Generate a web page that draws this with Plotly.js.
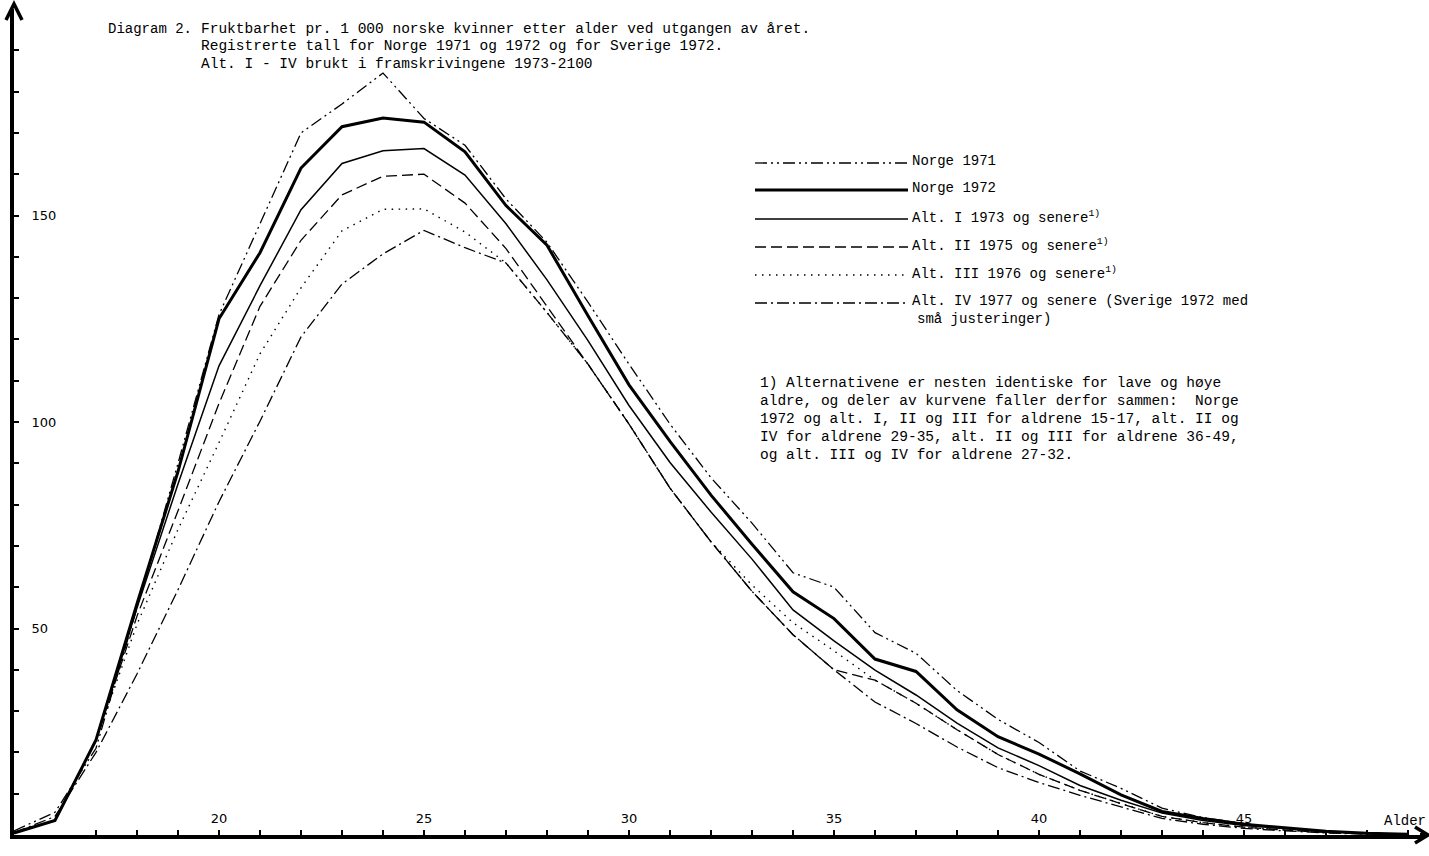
<!DOCTYPE html>
<html>
<head>
<meta charset="utf-8">
<script src="https://cdn.plot.ly/plotly-3.0.1.min.js"></script>
<style>
html,body{margin:0;padding:0;background:#fff;}
#chart{width:1429px;height:856px;}
</style>
</head>
<body>
<div id="chart"></div>
<script>
// ---------- DATA ----------
const ages = [15,16,17,18,19,20,21,22,23,24,25,26,27,28,29,30,31,32,33,34,35,36,37,38,39,40,41,42,43,44,45,46,47,48,49];

const norge1971 = [1.0,5.5,21,55,90,126,148,170,177,184.5,173.5,167,154,143.5,129,114,99.5,86.5,75.5,63.5,60,49,44,35,28,22.4,15.5,11.3,6.5,4.2,2.8,1.6,0.8,0.4,0.2];
const norge1972 = [0.5,3.5,23,56,88,125,141,161.5,171.5,173.6,172.6,165.4,152.4,142.8,125.7,109,95.3,82.3,70.4,58.9,52.4,42.6,39.6,30.3,23.8,19.6,14.8,9.7,5.7,4.0,2.6,1.7,0.9,0.4,0.2];
const altI      = [0.5,3.5,23,55,85,113.6,133,151.4,162.6,165.7,166.2,159.8,148,134.4,119.7,104,90.2,78.2,66.8,54.5,47,39.9,33.9,27.1,21.1,16.8,12,8.4,5.3,3.5,2.3,1.5,0.8,0.4,0.2];
const altII     = [0.5,3.5,23,53,78.5,104.5,128,144,155,159.5,160,153,142,128,114,99.5,84,71,59,48.5,40,37.5,31.9,25.5,19.5,14.7,10.8,7.6,4.5,3.0,1.9,1.2,0.6,0.3,0.1];
const altIII    = [0.5,3.5,23,51,74,95,116.5,132.5,146.3,151.5,151.6,146,138.5,126.5,114,99.5,84,71,60.5,51.4,44.6,37.5,31.9,25.5,19.5,14.7,10.8,7.6,4.5,3.0,1.9,1.2,0.6,0.3,0.1];
const altIV     = [0.5,4.5,20,39,59.4,80.7,100.2,120.6,133.4,140.7,146.4,142.2,138.5,126.5,114,99.5,84,71,59,48.5,40,32.2,27,21.3,16.3,12.7,9.6,6.8,4.0,2.6,1.6,1.0,0.5,0.2,0.1];

const seriesNames = ["Norge 1971","Norge 1972","Alt. I 1973 og senere<sup>1)</sup>","Alt. II 1975 og senere<sup>1)</sup>","Alt. III 1976 og senere<sup>1)</sup>","Alt. IV 1977 og senere (Sverige 1972 med"];
const legendExtraLine = "små justeringer)";

const xTickVals = [20,25,30,35,40,45];
const yTickVals = [50,100,150];

const titleLead = "Diagram 2.";
const titleLines = [
  "Fruktbarhet pr. 1 000 norske kvinner etter alder ved utgangen av året.",
  "Registrerte tall for Norge 1971 og 1972 og for Sverige 1972.",
  "Alt. I - IV brukt i framskrivingene 1973-2100"
];
const footnoteLines = [
  "1) Alternativene er nesten identiske for lave og høye",
  "aldre, og deler av kurvene faller derfor sammen:  Norge",
  "1972 og alt. I, II og III for aldrene 15-17, alt. II og",
  "IV for aldrene 29-35, alt. II og III for aldrene 36-49,",
  "og alt. III og IV for aldrene 27-32."
];
const xAxisName = "Alder";

// ---------- STYLE ----------
const styles = [
  {width:1.3, dash:"12px,4px,2px,4px,2px,4px"},
  {width:3.0, dash:"solid"},
  {width:1.5, dash:"solid"},
  {width:1.3, dash:"11px,5px"},
  {width:1.4, dash:"1.5px,5.5px"},
  {width:1.3, dash:"12px,4px,2px,4px"}
];
const allSeries = [norge1971, norge1972, altI, altII, altIII, altIV];

const L = 14, R = 4, T = 9, B = 21, W = 1429, H = 856;
const PW = W - L - R, PH = H - T - B;
const px = x => (x - L) / PW;
const py = y => (H - B - y) / PH;

const mono = "Liberation Mono, Courier New, monospace";

const traces = allSeries.map((s, i) => ({
  type: "scatter", mode: "lines", x: ages, y: s,
  name: seriesNames[i].replace(/<[^>]+>/g, ""),
  line: {color: "#000", width: styles[i].width, dash: styles[i].dash},
  hoverinfo: "x+y+name"
}));

const shapes = [];
const annotations = [];

// legend
const legendRows = [161, 188, 217, 245, 273, 301];
legendRows.forEach((yy, i) => {
  shapes.push({type: "line", xref: "paper", yref: "paper",
    x0: px(755), x1: px(908), y0: py(yy + 2), y1: py(yy + 2),
    line: {color: "#000", width: styles[i].width, dash: styles[i].dash}});
  annotations.push({xref: "paper", yref: "paper", x: px(910), y: py(yy),
    xanchor: "left", yanchor: "middle", showarrow: false, text: seriesNames[i],
    font: {family: mono, size: 14, color: "#000"}});
});
annotations.push({xref: "paper", yref: "paper", x: px(915), y: py(319),
  xanchor: "left", yanchor: "middle", showarrow: false, text: legendExtraLine,
  font: {family: mono, size: 14, color: "#000"}});

// title
annotations.push({xref: "paper", yref: "paper", x: px(106), y: py(29),
  xanchor: "left", yanchor: "middle", showarrow: false, text: titleLead,
  font: {family: mono, size: 14, color: "#000"}});
titleLines.forEach((t, i) => {
  annotations.push({xref: "paper", yref: "paper", x: px(199), y: py(29 + i * 17.5),
    xanchor: "left", yanchor: "middle", showarrow: false, text: t,
    font: {family: mono, size: 14.5, color: "#000"}});
});

// footnote
footnoteLines.forEach((t, i) => {
  annotations.push({xref: "paper", yref: "paper", x: px(758), y: py(383 + i * 18),
    xanchor: "left", yanchor: "middle", showarrow: false, text: t,
    font: {family: mono, size: 14.5, color: "#000"}});
});

// axis name
annotations.push({xref: "paper", yref: "paper", x: px(1428), y: py(821),
  xanchor: "right", yanchor: "middle", showarrow: false, text: xAxisName,
  font: {family: mono, size: 14, color: "#000"}});

// axis arrowheads (chevrons)
shapes.push({type: "path", xref: "paper", yref: "paper",
  path: `M ${px(L - 8)} ${py(20)} L ${px(L)} ${py(4)} L ${px(L + 8)} ${py(20)}`,
  line: {color: "#000", width: 3.5}});
shapes.push({type: "path", xref: "paper", yref: "paper",
  path: `M ${px(1415)} ${py(H - B - 8)} L ${px(1428)} ${py(H - B)} L ${px(1415)} ${py(H - B + 8)}`,
  line: {color: "#000", width: 3.5}});
shapes.push({type: "line", xref: "paper", yref: "paper",
  x0: px(1420), x1: px(1428), y0: py(H - B), y1: py(H - B),
  line: {color: "#000", width: 4}});

const layout = {
  width: W, height: H,
  margin: {l: L, r: R, t: T, b: B, pad: 0},
  paper_bgcolor: "#fff", plot_bgcolor: "#fff",
  showlegend: false,
  xaxis: {
    range: [15, 15 + PW / 41], showgrid: false, zeroline: false,
    showline: true, linecolor: "#000", linewidth: 4,
    tickmode: "array", tickvals: xTickVals,
    ticks: "inside", ticklen: 5, tickwidth: 2, tickcolor: "#000",
    ticklabelposition: "inside", ticklabelstandoff: 4,
    tickfont: {family: "DejaVu Sans, sans-serif", size: 13, color: "#000"},
    minor: {dtick: 1, tick0: 15, ticks: "inside", ticklen: 5, tickwidth: 2, tickcolor: "#000", showgrid: false},
    fixedrange: true
  },
  yaxis: {
    range: [0, PH / 4.13], showgrid: false, zeroline: false,
    showline: true, linecolor: "#000", linewidth: 4,
    tickmode: "array", tickvals: yTickVals,
    ticks: "inside", ticklen: 5, tickwidth: 2, tickcolor: "#000",
    ticklabelposition: "inside", ticklabelstandoff: 12,
    tickfont: {family: "DejaVu Sans, sans-serif", size: 13, color: "#000"},
    minor: {dtick: 10, tick0: 0, ticks: "inside", ticklen: 5, tickwidth: 2, tickcolor: "#000", showgrid: false},
    fixedrange: true
  },
  shapes: shapes,
  annotations: annotations
};

Plotly.newPlot("chart", traces, layout, {displayModeBar: false, staticPlot: true});
</script>
</body>
</html>
